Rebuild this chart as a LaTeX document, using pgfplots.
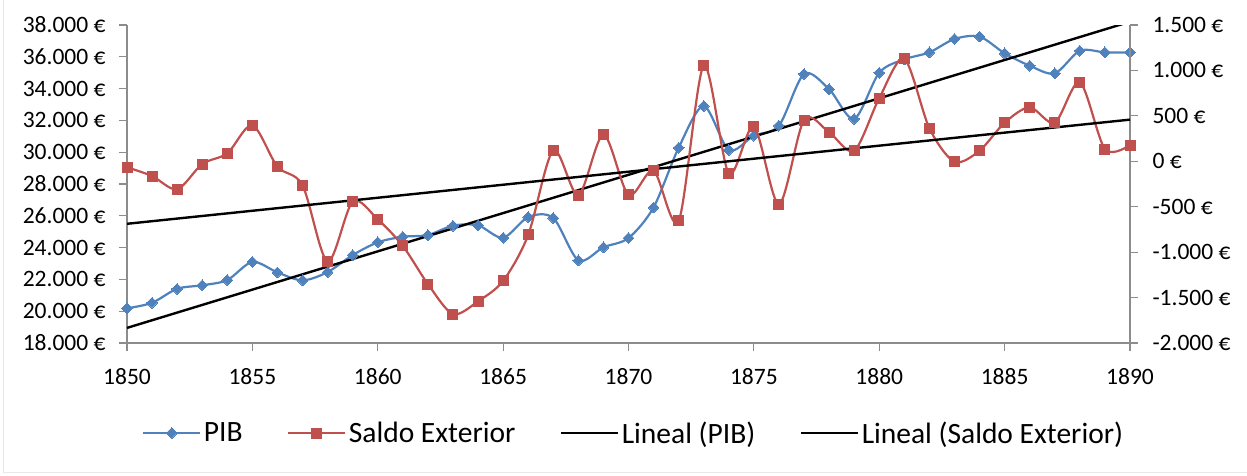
\documentclass[border=0pt]{standalone}
\usepackage{pgfplots}
\usepackage{pgfplotstable}
\pgfplotsset{compat=1.18}
\usepackage{fontspec}
\setmainfont{Carlito}
\definecolor{pibblue}{HTML}{4F81BD}
\definecolor{saldored}{HTML}{C0504D}
\definecolor{axgray}{HTML}{8C8C8C}

\pgfplotstableread{
year pib saldo
1850 20180 -66
1851 20530 -162
1852 21410 -308
1853 21630 -30
1854 21960 88
1855 23100 396
1856 22440 -59
1857 21940 -264
1858 22460 -1105
1859 23530 -445
1860 24330 -639
1861 24680 -932
1862 24790 -1351
1863 25380 -1681
1864 25400 -1541
1865 24620 -1316
1866 25920 -811
1867 25860 120
1868 23200 -373
1869 24020 293
1870 24600 -370
1871 26530 -104
1872 30280 -657
1873 32900 1052
1874 30140 -132
1875 31040 381
1876 31670 -473
1877 34920 454
1878 33960 319
1879 32100 117
1880 35000 695
1881 35840 1126
1882 36280 363
1883 37120 -5
1884 37270 117
1885 36220 425
1886 35440 594
1887 34960 425
1888 36380 869
1889 36280 135
1890 36280 179
}\datatable

\pgfplotsset{
  base/.style={
    scale only axis, width=1003pt, height=318pt,
    xmin=1850, xmax=1890,
    scaled y ticks=false, scaled x ticks=false,
    tick align=outside, major tick length=8pt,
    every tick/.style={axgray, line width=1.1pt},
    axis line style={axgray, line width=1.3pt},
    tick label style={font=\fontsize{23.5}{27}\selectfont, /pgf/number format/assume math mode=true},
  },
}

\begin{document}
\begin{tikzpicture}
\begin{axis}[base,
  ymin=18000, ymax=38000,
  axis y line*=left, axis x line*=bottom,
  xtick={1850,1855,...,1890},
  xticklabel style={/pgf/number format/1000 sep={}, yshift=-14pt},
  ytick={18000,20000,...,38000},
  yticklabels={18.000 €,20.000 €,22.000 €,24.000 €,26.000 €,28.000 €,30.000 €,32.000 €,34.000 €,36.000 €,38.000 €},
  yticklabel style={xshift=-10pt},
]
\addplot[pibblue, line width=2.2pt, smooth, mark=square*, mark size=3.8pt,
  mark options={rotate=45, solid, fill=pibblue, draw=pibblue, line width=0pt}]
  table[x=year, y=pib] {\datatable};
\addplot[black, line width=2.4pt, no marks]
  table[x=year, y={create col/linear regression={y=pib}}] {\datatable};
\end{axis}

\begin{axis}[base,
  ymin=-2000, ymax=1500,
  axis y line*=right, axis x line=none,
  ytick={-2000,-1500,...,1500},
  yticklabels={-2.000 €,-1.500 €,-1.000 €,-500 €,0 €,500 €,1.000 €,1.500 €},
  yticklabel style={xshift=11pt},
  legend columns=4,
  legend style={draw=none, fill=none, font=\fontsize{29.5}{33}\selectfont,
    at={(axis description cs:0.012,-0.283)}, anchor=west,
    /tikz/every even column/.append style={column sep=42pt},
    nodes={inner sep=2.5pt}},
  legend cell align=left,
  legend image code/.code={\draw[mark repeat=2,mark phase=2,#1] plot coordinates {(0pt,0pt) (28.5pt,0pt) (57pt,0pt)};},
]
\addlegendimage{pibblue, line width=2.2pt, mark=square*, mark size=3.8pt,
  mark options={rotate=45, solid, fill=pibblue, draw=pibblue, line width=0pt}}
\addlegendentry{PIB}
\addplot[saldored, line width=2.2pt, smooth, mark=square*, mark size=5pt,
  mark options={solid, fill=saldored, draw=saldored, line width=0pt}]
  table[x=year, y=saldo] {\datatable};
\addlegendentry{Saldo Exterior}
\addlegendimage{black, line width=2.4pt}
\addlegendentry{Lineal (PIB)}
\addplot[black, line width=2.4pt, no marks]
  table[x=year, y={create col/linear regression={y=saldo}}] {\datatable};
\addlegendentry{Lineal (Saldo Exterior)}
\end{axis}

\draw[gray!18, line width=1pt] (-123.5pt,343pt) -- (-123.5pt,-129pt) -- (1120pt,-129pt);
\pgfresetboundingbox
\path[use as bounding box] (-127pt,-132pt) rectangle (1120pt,343pt);
\end{tikzpicture}
\end{document}
